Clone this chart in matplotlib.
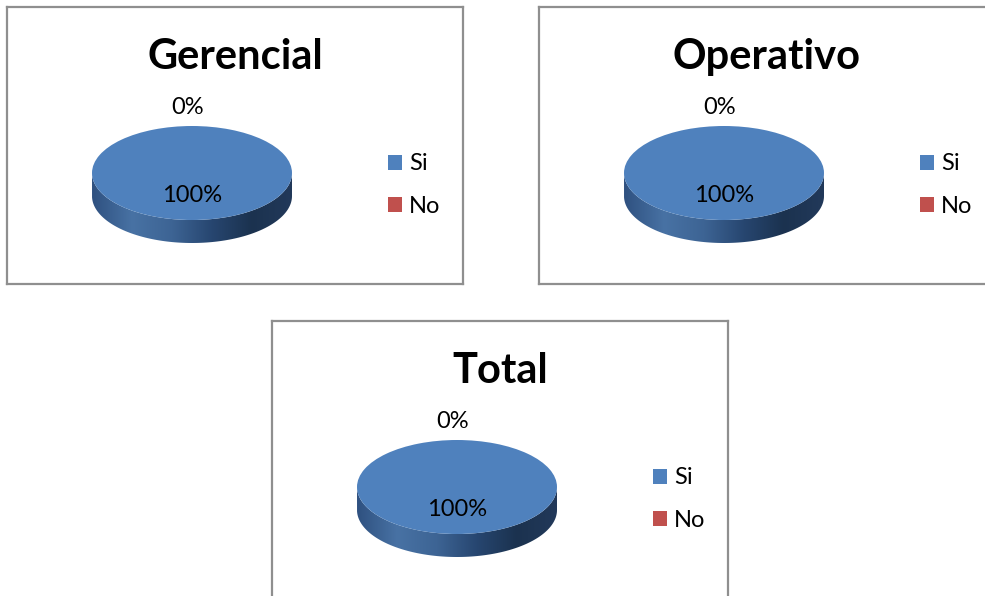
import numpy as np
import matplotlib
matplotlib.use('Agg')
import matplotlib.pyplot as plt
from matplotlib.path import Path
from matplotlib.colors import LinearSegmentedColormap

# data
panel_titles = ['Gerencial', 'Operativo', 'Total']
categories = ['Si', 'No']
si_values = [100, 100, 100]
no_values = [0, 0, 0]

colors = ['#4F81BD', '#C0504D']
side_cmap = LinearSegmentedColormap.from_list(
    'side', ['#2f5180', '#4872a4', '#3d6494', '#274670', '#1b324f', '#22395a'])

FW, FH = 985, 596
BW, BH = 456, 277          # panel box size (px)
origins = [(7, 7), (539, 7), (272, 321)]

# geometry inside a panel (px, from the box top-left)
cx, cy, rx, ry, depth = 185, 166, 100, 47, 23
top_pad, bot_pad = 85, 6
FONT = 'Lato'

fig = plt.figure(figsize=(FW / 100, FH / 100), dpi=100)


def fig_rect(x, y, w, h):
    return [x / FW, 1 - (y + h) / FH, w / FW, h / FH]


for title, si, no, (x0, y0) in zip(panel_titles, si_values, no_values, origins):
    # frame + title + legend live in a pixel-unit axes
    box = fig.add_axes(fig_rect(x0, y0, BW, BH))
    box.set_xlim(0, BW)
    box.set_ylim(BH, 0)
    box.set_xticks([])
    box.set_yticks([])
    for s in box.spines.values():
        s.set_color('#8f8f8f')
        s.set_linewidth(1.6)
    box.text(228, 62, title, ha='center', va='baseline', fontsize=30,
             fontweight='bold', family=FONT)

    # pie axes stretched so the unit circle becomes the tilted ellipse
    pa = fig.add_axes(fig_rect(x0 + cx - rx, y0 + cy - ry - top_pad,
                               2 * rx, 2 * ry + top_pad + depth + bot_pad))
    pa.set_zorder(2)
    vals = [si, no]
    wedges, _ = pa.pie(vals, colors=colors, startangle=90, counterclock=False,
                       wedgeprops=dict(linewidth=0))
    pa.set_aspect('auto')
    pa.axis('off')

    dd = depth / ry
    grad = np.linspace(0, 1, 256).reshape(1, -1)
    for w in wedges:
        t1, t2 = w.theta1, w.theta2
        if t2 - t1 < 1e-6:
            continue
        for k in (-1, 0, 1):
            a = max(t1, 180 + 360 * k)
            b = min(t2, 360 + 360 * k)
            if b <= a:
                continue
            t = np.radians(np.linspace(a, b, 120))
            xs = np.concatenate([np.cos(t), np.cos(t[::-1])])
            ys = np.concatenate([np.sin(t), np.sin(t[::-1]) - dd])
            clip = Path(np.column_stack([xs, ys]), closed=True)
            im = pa.imshow(grad, cmap=side_cmap, aspect='auto',
                           extent=(-1, 1, -1 - dd, 0), zorder=0.5)
            im.set_clip_path(clip, transform=pa.transData)
    pa.set_xlim(-1, 1)
    pa.set_ylim(-(ry + depth + bot_pad) / ry, (ry + top_pad) / ry)

    # percentage labels
    total = sum(vals)
    for w, v in zip(wedges, vals):
        m = np.radians((w.theta1 + w.theta2) / 2)
        r = 0.47 if v > 0 else 1.40
        pa.text(r * np.cos(m) - (0.04 if v == 0 else 0), r * np.sin(m),
                f'{v / total * 100:.0f}%', ha='center', va='center',
                fontsize=17, family=FONT, clip_on=False)

    box.legend(wedges, categories, loc='center left',
               bbox_to_anchor=(381, 178), bbox_transform=box.transData,
               frameon=False, borderpad=0, borderaxespad=0,
               handlelength=0.6, handleheight=0.6, handletextpad=0.3,
               labelspacing=0.9, prop=dict(family=FONT, size=17))

fig.savefig('out.png', dpi=100, facecolor='white')
